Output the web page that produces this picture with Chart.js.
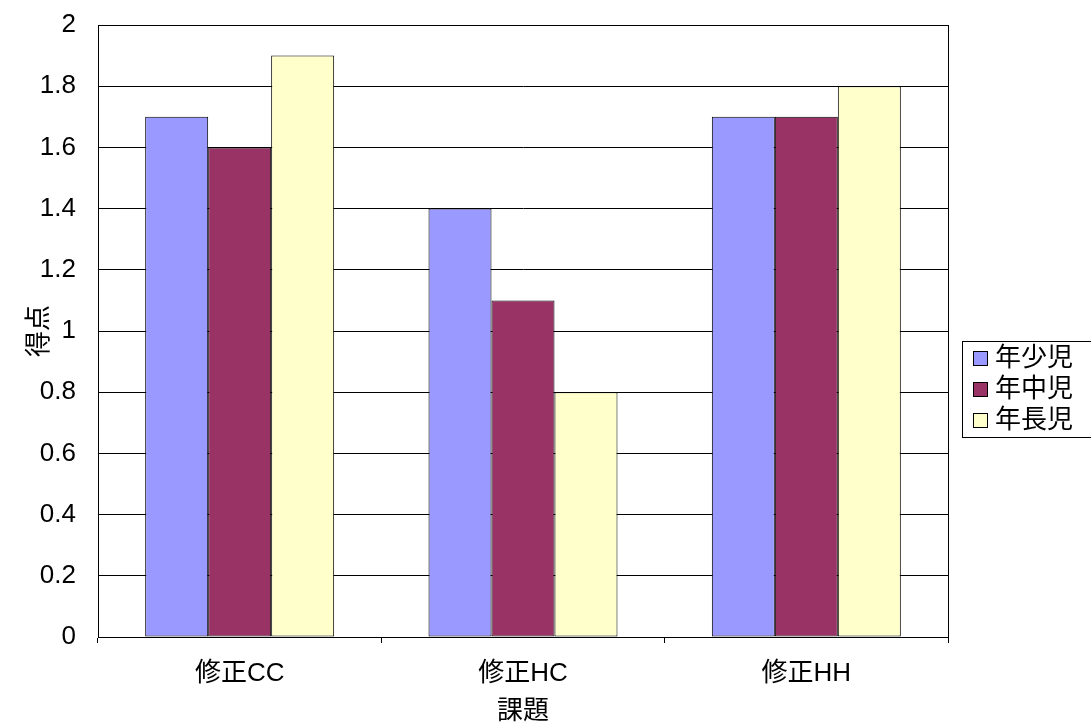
<!DOCTYPE html>
<html>
<head>
<meta charset="utf-8">
<script src="https://cdn.jsdelivr.net/npm/chart.js@4/dist/chart.umd.min.js"></script>
<style>
  html, body { margin: 0; padding: 0; background: #fff; }
  #wrap { width: 1091px; height: 727px; }
</style>
</head>
<body>
<div id="wrap"><canvas id="chart" width="1091" height="727"></canvas></div>
<script>
const categories = ['修正CC', '修正HC', '修正HH'];
const seriesNames = ['年少児', '年中児', '年長児'];
const shoValues = [1.7, 1.4, 1.7];
const chuValues = [1.6, 1.1, 1.7];
const choValues = [1.9, 0.8, 1.8];
const seriesColors = ['#9999FF', '#993366', '#FFFFCC'];
const yTicks = [0, 0.2, 0.4, 0.6, 0.8, 1, 1.2, 1.4, 1.6, 1.8, 2];
const yTickLabels = ['0', '0.2', '0.4', '0.6', '0.8', '1', '1.2', '1.4', '1.6', '1.8', '2'];

const FONT = '"Liberation Sans", Arial, "Noto Sans CJK JP", sans-serif';

// plot frame + boxed legend like the Excel original
const framePlugin = {
    id: 'frame',
    afterDraw(chart) {
        const ctx = chart.ctx;
        const a = chart.chartArea;
        ctx.save();
        ctx.strokeStyle = '#000';
        ctx.lineWidth = 1;
        ctx.strokeRect(Math.round(a.left) + 0.5, Math.round(a.top) + 0.5,
            Math.round(a.right - a.left), Math.round(a.bottom - a.top));

        // legend
        const lx = 962, ly = 341, rowH = 31;
        ctx.strokeRect(lx + 0.5, ly + 0.5, 140, rowH * 3 + 3);
        ctx.font = '26px ' + FONT;
        ctx.textBaseline = 'middle';
        ctx.textAlign = 'left';
        chart.data.datasets.forEach((ds, i) => {
            const cy = ly + 17 + i * rowH;
            ctx.fillStyle = ds.backgroundColor;
            ctx.fillRect(973, cy - 7, 14, 14);
            ctx.strokeRect(973.5, cy - 6.5, 14, 14);
            ctx.fillStyle = '#000';
            ctx.fillText(ds.label, 995, cy + 1);
        });
        ctx.restore();
    }
};

new Chart(document.getElementById('chart').getContext('2d'), {
    type: 'bar',
    data: {
        labels: categories,
        datasets: [
            { label: seriesNames[0], data: shoValues, backgroundColor: seriesColors[0] },
            { label: seriesNames[1], data: chuValues, backgroundColor: seriesColors[1] },
            { label: seriesNames[2], data: choValues, backgroundColor: seriesColors[2] }
        ].map(d => Object.assign(d, { borderColor: '#000', borderWidth: 1, borderSkipped: false }))
    },
    options: {
        responsive: false,
        animation: false,
        devicePixelRatio: 1,
        categoryPercentage: 0.667,
        barPercentage: 1,
        layout: { padding: { left: 0, right: 143, top: 25, bottom: 0 } },
        plugins: {
            legend: { display: false },
            tooltip: { enabled: false }
        },
        scales: {
            x: {
                offset: true,
                grid: { display: true, offset: true, drawOnChartArea: false, drawTicks: true, tickLength: 6, color: '#000' },
                border: { color: '#000', width: 1 },
                ticks: { color: '#000', font: { family: FONT, size: 26 }, padding: 15, maxRotation: 0 },
                title: { display: true, text: '課題', color: '#000', font: { family: FONT, size: 26 }, padding: { top: 2, bottom: 0 } },
                afterFit(scale) { scale.height = 90; }
            },
            y: {
                min: 0,
                max: 2,
                afterBuildTicks(scale) { scale.ticks = yTicks.map(v => ({ value: v })); },
                grid: { color: '#000', lineWidth: 1, drawTicks: false },
                border: { color: '#000', width: 1 },
                ticks: {
                    color: '#000', font: { family: FONT, size: 26 }, padding: 22,
                    callback: (v, i) => yTickLabels[i]
                },
                title: { display: true, text: '得点', color: '#000', font: { family: FONT, size: 26 }, padding: { top: 24, bottom: 0 } },
                afterFit(scale) {
                    scale.width = 98;
                    scale.paddingTop = 0;
                    scale.paddingBottom = 0;
                }
            }
        }
    },
    plugins: [framePlugin]
});
</script>
</body>
</html>
